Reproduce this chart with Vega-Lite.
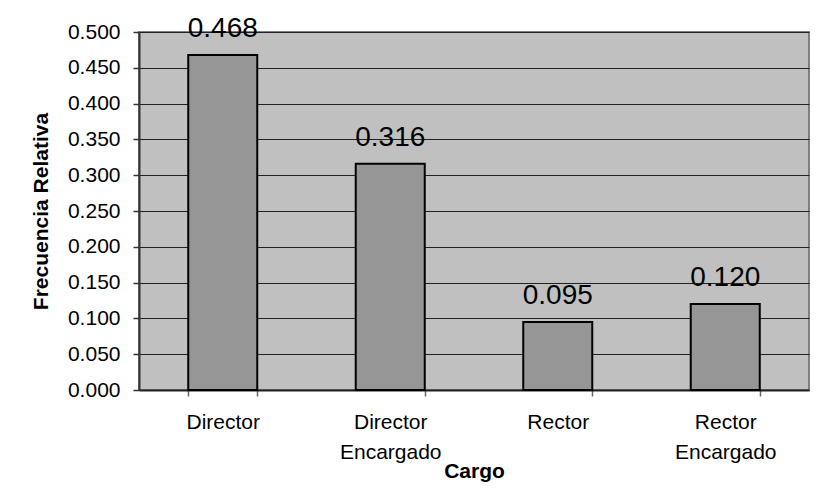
{
  "$schema": "https://vega.github.io/schema/vega-lite/v6.json",
  "width": 670,
  "height": 358,
  "autosize": {"type": "none"},
  "padding": {"left": 139, "top": 32, "right": 11, "bottom": 98},
  "background": "white",
  "config": {
    "font": "Liberation Sans",
    "view": {"fill": "#C0C0C0", "stroke": "#808080", "strokeWidth": 2}
  },
  "data": {
    "values": [
      {"cargo": "Director", "frecuencia": 0.468},
      {"cargo": "Director Encargado", "frecuencia": 0.316},
      {"cargo": "Rector", "frecuencia": 0.095},
      {"cargo": "Rector Encargado", "frecuencia": 0.120}
    ]
  },
  "encoding": {
    "x": {
      "field": "cargo",
      "type": "nominal",
      "sort": null,
      "scale": {"paddingInner": 0.588, "paddingOuter": 0.294},
      "axis": {
        "title": "Cargo",
        "titleFont": "Liberation Sans",
        "titleFontSize": 21,
        "titleFontWeight": "bold",
        "titleColor": "black",
        "titleBaseline": "alphabetic",
        "titleY": 87,
        "labelExpr": "split(datum.label, ' ')",
        "labelAngle": 0,
        "labelFontSize": 21,
        "labelColor": "black",
        "labelLineHeight": 30,
        "labelPadding": 15,
        "labelBaseline": "top",
        "tickBand": "extent",
        "tickSize": 6,
        "tickColor": "#666666",
        "tickWidth": 1.5,
        "domainColor": "#222222",
        "domainWidth": 2
      }
    },
    "y": {
      "field": "frecuencia",
      "type": "quantitative",
      "scale": {"domain": [0, 0.5], "nice": false},
      "axis": {
        "title": "Frecuencia Relativa",
        "titleFont": "Liberation Sans",
        "titleFontSize": 21,
        "titleFontWeight": "bold",
        "titleColor": "black",
        "titleAngle": -90,
        "titleBaseline": "alphabetic",
        "titleAlign": "center",
        "titleX": -92,
        "titleY": 179,
        "values": [0, 0.05, 0.1, 0.15, 0.2, 0.25, 0.3, 0.35, 0.4, 0.45, 0.5],
        "format": ".3f",
        "labelFontSize": 21,
        "labelColor": "black",
        "labelPadding": 13,
        "tickSize": 6,
        "tickColor": "#333333",
        "tickWidth": 1.5,
        "domainColor": "#333333",
        "domainWidth": 2,
        "grid": true,
        "gridColor": "#222222",
        "gridWidth": 1
      }
    }
  },
  "layer": [
    {
      "mark": {"type": "bar", "color": "#969696", "stroke": "black", "strokeWidth": 2}
    },
    {
      "mark": {"type": "text", "baseline": "alphabetic", "dy": -18, "fontSize": 28, "color": "black", "font": "Liberation Sans"},
      "encoding": {
        "text": {"field": "frecuencia", "type": "quantitative", "format": ".3f"}
      }
    }
  ]
}
